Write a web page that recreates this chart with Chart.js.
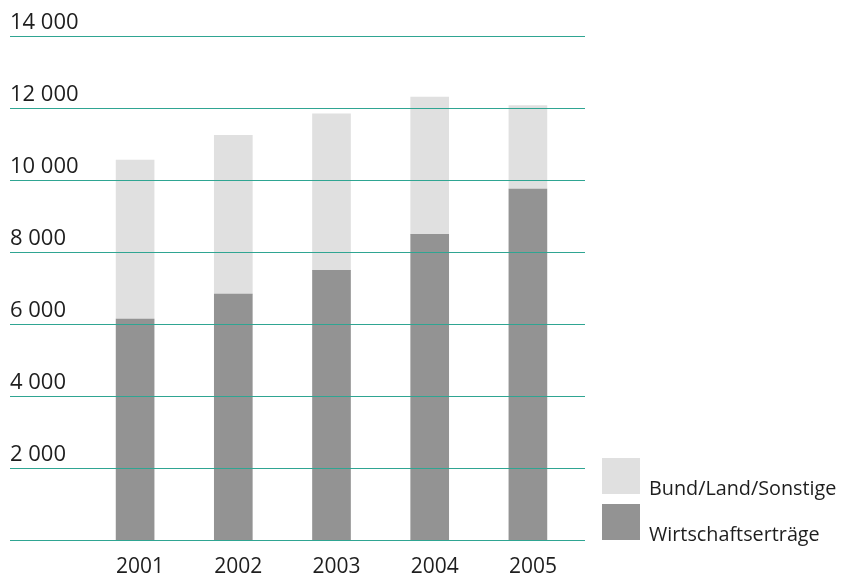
<!DOCTYPE html>
<html>
<head>
<meta charset="utf-8">
<script src="https://cdn.jsdelivr.net/npm/chart.js@4"></script>
<style>
  html, body { margin: 0; padding: 0; background: #fff; }
  #wrap { width: 845px; height: 574px; position: relative; }
</style>
</head>
<body>
<div id="wrap"><canvas id="chart" width="845" height="574"></canvas></div>
<script>
// data
const years = ['2001', '2002', '2003', '2004', '2005'];
const wirtschaft = [6140, 6830, 7490, 8490, 9750];
const bundLand = [4410, 4410, 4350, 3810, 2320];
const yTicks = [0, 2000, 4000, 6000, 8000, 10000, 12000, 14000];

const FONT = "'Open Sans', 'Noto Sans', sans-serif";
const TEXT = '#1e1e1e';
const GRID = '#2fa592';

// teal lines across the whole width, drawn over the bars
const gridLines = {
  id: 'gridLines',
  afterDatasetsDraw(chart) {
    const ctx = chart.ctx;
    const y = chart.scales.y;
    ctx.save();
    ctx.strokeStyle = GRID;
    ctx.lineWidth = 1.2;
    yTicks.forEach(v => {
      const py = Math.round(y.getPixelForValue(v)) + 0.5;
      ctx.beginPath();
      ctx.moveTo(10, py);
      ctx.lineTo(585, py);
      ctx.stroke();
    });
    ctx.restore();
  }
};

// legend bottom right, light series on top
const boxLegend = {
  id: 'boxLegend',
  afterDraw(chart) {
    const ctx = chart.ctx;
    const sets = chart.data.datasets.slice().reverse();
    ctx.save();
    ctx.font = '19.8px ' + FONT;
    ctx.textBaseline = 'alphabetic';
    sets.forEach((ds, i) => {
      const top = 458 + i * 46;
      ctx.fillStyle = ds.backgroundColor;
      ctx.fillRect(602, top, 38, 36);
      ctx.fillStyle = TEXT;
      ctx.fillText(ds.label, 649, top + 37);
    });
    ctx.restore();
  }
};

new Chart(document.getElementById('chart'), {
  type: 'bar',
  data: {
    labels: years,
    datasets: [
      {
        label: 'Wirtschaftserträge',
        data: wirtschaft,
        backgroundColor: '#939393'
      },
      {
        label: 'Bund/Land/Sonstige',
        data: bundLand,
        backgroundColor: '#e0e0e0'
      }
    ]
  },
  options: {
    responsive: false,
    animation: false,
    layout: { padding: { left: 10, right: 268, top: 36, bottom: 0 } },
    datasets: { bar: { barThickness: 38 } },
    plugins: {
      legend: { display: false },
      tooltip: { enabled: false }
    },
    scales: {
      x: {
        stacked: true,
        grid: { display: false },
        border: { display: false },
        ticks: { color: TEXT, font: { family: FONT, size: 21 }, padding: 6, labelOffset: 5 },
        afterFit(scale) { scale.height = 34; }
      },
      y: {
        stacked: true,
        min: 0,
        max: 14000,
        afterBuildTicks(scale) { scale.ticks = yTicks.map(v => ({ value: v })); },
        grid: { display: false },
        border: { display: false },
        ticks: {
          color: TEXT,
          crossAlign: 'far',
          labelOffset: -13,
          font: { family: FONT, size: 22 },
          callback: v => v === 0 ? '' : v.toLocaleString('en-US').replace(/,/g, ' ')
        },
        afterFit(scale) { scale.width = 76; }
      }
    }
  },
  plugins: [gridLines, boxLegend]
});
</script>
</body>
</html>
